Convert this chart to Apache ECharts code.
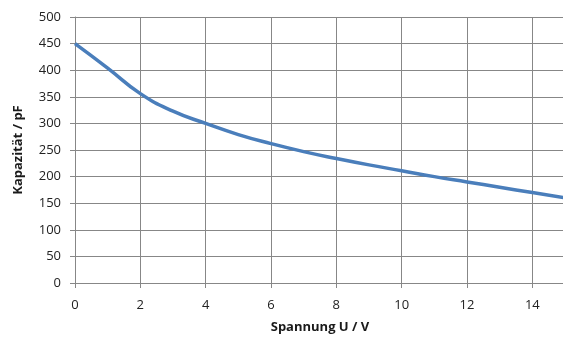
<!DOCTYPE html>
<html>
<head>
<meta charset="utf-8">
<script src="https://cdn.jsdelivr.net/npm/echarts@6/dist/echarts.min.js"></script>
<style>
  html, body { margin: 0; padding: 0; background: #fff; }
  #chart { width: 563px; height: 338px; }
</style>
</head>
<body>
<div id="chart"></div>
<script>
// Spannung U / V
const spannung = [0, 1, 2, 3, 4, 5, 6, 7, 8, 9, 10, 11, 12, 13, 14, 15];
// Kapazität / pF
const kapazitaet = [450, 404, 356, 323, 300, 279, 262, 247, 234, 222, 211, 200, 190, 180, 170, 160];

const chart = echarts.init(document.getElementById('chart'));

const achsenFarbe = '#878787';
const schrift = 'Open Sans, Liberation Sans, sans-serif';

option = {
    animation: false,
    grid: {
        left: 75,
        right: -2,
        top: 17,
        bottom: 55,
        outerBoundsMode: 'none'
    },
    xAxis: {
        type: 'value',
        min: 0,
        max: 15,
        interval: 2,
        name: 'Spannung U / V',
        nameLocation: 'middle',
        nameGap: 38,
        nameTextStyle: {
            fontFamily: schrift,
            fontWeight: 'bold',
            fontSize: 13,
            color: '#1a1a1a'
        },
        axisLine: { lineStyle: { color: achsenFarbe, width: 1 } },
        axisTick: { show: true, length: 5, lineStyle: { color: achsenFarbe } },
        axisLabel: {
            margin: 16,
            fontFamily: schrift,
            fontSize: 13,
            color: '#222',
            showMaxLabel: false
        },
        splitLine: { show: true, lineStyle: { color: achsenFarbe, width: 1 } }
    },
    yAxis: {
        type: 'value',
        min: 0,
        max: 500,
        interval: 50,
        name: 'Kapazität / pF',
        nameLocation: 'middle',
        nameGap: 50,
        nameTextStyle: {
            fontFamily: schrift,
            fontWeight: 'bold',
            fontSize: 13,
            color: '#1a1a1a'
        },
        axisLine: { show: true, lineStyle: { color: achsenFarbe, width: 1 } },
        axisTick: { show: true, length: 5, lineStyle: { color: achsenFarbe } },
        axisLabel: {
            margin: 14,
            fontFamily: schrift,
            fontSize: 13,
            color: '#222'
        },
        splitLine: { show: true, lineStyle: { color: achsenFarbe, width: 1 } }
    },
    series: [
        {
            type: 'line',
            data: spannung.map((u, i) => [u, kapazitaet[i]]),
            smooth: 0.5,
            showSymbol: false,
            lineStyle: { color: '#4a7ebb', width: 3.5 }
        }
    ]
};

chart.setOption(option);
</script>
</body>
</html>
